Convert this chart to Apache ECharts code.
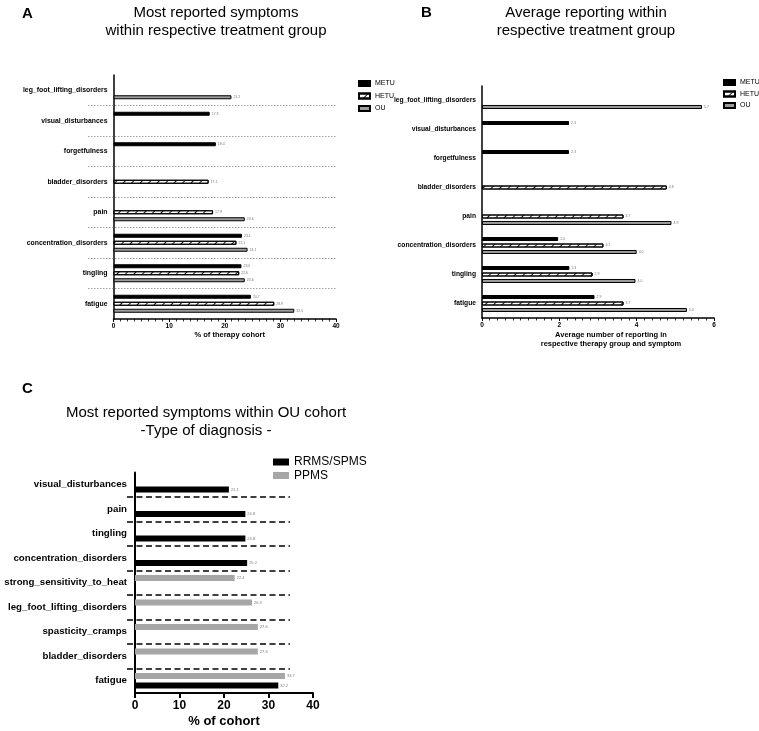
<!DOCTYPE html>
<html>
<head>
<meta charset="utf-8">
<title>Symptoms</title>
<script src="https://cdn.jsdelivr.net/npm/echarts@6/dist/echarts.min.js"></script>
<style>
  html,body{margin:0;padding:0;background:#fff}
  #chart{width:759px;height:731px}
</style>
</head>
<body>
<div id="chart"></div>
<script>
// panel A - % of therapy cohort (top to bottom)
var catA = ['leg_foot_lifting_disorders', 'visual_disturbances', 'forgetfulness', 'bladder_disorders',
            'pain', 'concentration_disorders', 'tingling', 'fatigue'];
var metuA = [null, 17.3, 18.4, null, null, 23.1, 23.0, 24.7];
var hetuA = [null, null, null, 17.1, 17.9, 22.1, 22.6, 28.9];
var ouA   = [21.2, null, null, null, 23.6, 24.1, 23.6, 32.5];

// panel B - average number of reporting
var catB = catA;
var metuB = [null, 2.25, 2.25, null, null, 1.97, 2.26, 2.91];
var hetuB = [null, null, null, 4.78, 3.66, 3.14, 2.86, 3.66];
var ouB   = [5.69, null, null, null, 4.90, 4.00, 3.97, 5.30];

// panel C - OU cohort by diagnosis
var catC = ['visual_disturbances', 'pain', 'tingling', 'concentration_disorders', 'strong_sensitivity_to_heat',
            'leg_foot_lifting_disorders', 'spasticity_cramps', 'bladder_disorders', 'fatigue'];
var rrmsC = [21.1, 24.8, 24.8, 25.2, null, null, null, null, 32.2];
var ppmsC = [null, null, null, null, 22.4, 26.3, 27.6, 27.6, 33.7];

// group separators (boundaries between categories)
var sepA = [1, 2, 3, 4, 5, 6, 7];
var sepC = [1, 2, 3, 4, 5, 6, 7, 8];

var FF = "'Liberation Sans', Arial, sans-serif";

var chart = echarts.init(document.getElementById('chart'));

var metuStyle = {color: '#000', borderColor: '#000', borderWidth: 1};
var hetuStyle = {
  color: '#fff', borderColor: '#000', borderWidth: 1,
  decal: {symbol: 'rect', symbolSize: 1, dashArrayX: [1, 0], dashArrayY: [0.9, 4.2],
          rotation: -Math.PI / 4, color: '#111'}
};
var ouStyle = {color: '#9c9c9c', borderColor: '#000', borderWidth: 1};

function tinyLabel(size) {
  return {
    show: true, position: 'right', distance: 2, fontSize: size, color: '#777', fontFamily: FF,
    formatter: function (p) { return p.value == null ? '' : p.value.toFixed(1); }
  };
}

function barSeries(name, data, xi, style, w, gap, lsize) {
  return {
    name: name, type: 'bar', xAxisIndex: xi, yAxisIndex: xi, data: data,
    barWidth: w, barGap: gap, itemStyle: style, label: tinyLabel(lsize),
    emphasis: {disabled: true}, animation: false
  };
}

function sepSeries(idx, list, style) {
  return {
    type: 'line', xAxisIndex: idx, yAxisIndex: idx, data: [], silent: true, animation: false,
    markLine: {
      symbol: 'none', silent: true, animation: false, label: {show: false},
      lineStyle: style, emphasis: {disabled: true},
      data: list.map(function (k) { return [{coord: [0, k]}, {coord: [1, k]}]; })
    }
  };
}

function catAxis(gi, cats, fs, margin, tlen, lw) {
  return {
    gridIndex: gi, type: 'category', data: cats, inverse: true,
    axisLine: {lineStyle: {color: '#000', width: lw}},
    axisTick: {alignWithLabel: true, length: tlen, lineStyle: {color: '#000', width: lw}},
    axisLabel: {interval: 0, fontSize: fs, fontWeight: 'bold', color: '#000', margin: margin, fontFamily: FF},
    splitLine: {show: false}
  };
}

function hiddenAxis(gi, max) {
  return {gridIndex: gi, type: 'value', min: 0, max: max, show: false, inverse: true};
}

function grid(l, t, w, h) {
  return {left: l, top: t, width: w, height: h, containLabel: false, outerBoundsMode: 'none'};
}

var option = {
  animation: false,
  textStyle: {fontFamily: FF},
  grid: [
    grid(113.5, 75, 222.5, 244),
    grid(482, 86, 232, 232),
    grid(135, 472.5, 178, 220.5),
    grid(88, 75, 249, 244),
    grid(127, 472.5, 163, 220.5)
  ],
  xAxis: [
    {
      gridIndex: 0, type: 'value', min: 0, max: 40, interval: 10,
      axisLine: {show: true, lineStyle: {color: '#000', width: 1.5}},
      axisTick: {show: true, length: 3, lineStyle: {color: '#000', width: 1}},
      minorTick: {show: true, splitNumber: 8, length: 2.5, lineStyle: {color: '#000', width: 0.8}},
      splitLine: {show: false},
      axisLabel: {fontSize: 6.5, fontWeight: 'bold', color: '#000', margin: 4, fontFamily: FF},
      name: '% of therapy cohort', nameLocation: 'middle', nameGap: 12,
      nameTextStyle: {fontSize: 7.5, fontWeight: 'bold', color: '#000', fontFamily: FF, padding: [0, 0, 0, 10]}
    },
    {
      gridIndex: 1, type: 'value', min: 0, max: 6, interval: 2,
      axisLine: {show: true, lineStyle: {color: '#000', width: 1.5}},
      axisTick: {show: true, length: 3, lineStyle: {color: '#000', width: 1}},
      minorTick: {show: true, splitNumber: 10, length: 2.5, lineStyle: {color: '#000', width: 0.8}},
      splitLine: {show: false},
      axisLabel: {fontSize: 6.5, fontWeight: 'bold', color: '#000', margin: 4, fontFamily: FF},
      name: 'Average number of reporting in\nrespective therapy group and symptom',
      nameLocation: 'middle', nameGap: 12,
      nameTextStyle: {fontSize: 7.5, fontWeight: 'bold', color: '#000', fontFamily: FF, lineHeight: 9,
                      padding: [0, 0, 0, 26]}
    },
    {
      gridIndex: 2, type: 'value', min: 0, max: 40, interval: 10,
      axisLine: {show: true, lineStyle: {color: '#000', width: 2}},
      axisTick: {show: true, length: 5, lineStyle: {color: '#000', width: 2}},
      splitLine: {show: false},
      axisLabel: {fontSize: 12, fontWeight: 'bold', color: '#000', margin: 7, fontFamily: FF},
      name: '% of cohort', nameLocation: 'middle', nameGap: 22,
      nameTextStyle: {fontSize: 13, fontWeight: 'bold', color: '#000', fontFamily: FF}
    },
    {gridIndex: 3, type: 'value', min: 0, max: 1, show: false},
    {gridIndex: 4, type: 'value', min: 0, max: 1, show: false}
  ],
  yAxis: [
    catAxis(0, catA, 6.9, 6, 4, 1.5),
    catAxis(1, catB, 6.7, 6, 4, 1.5),
    catAxis(2, catC, 9.7, 8, 6, 2),
    hiddenAxis(3, catA.length),
    hiddenAxis(4, catC.length)
  ],
  legend: [
    {data: ['METU', 'HETU', 'OU'], left: 353, top: 75, orient: 'vertical', icon: 'rect',
     itemWidth: 11, itemHeight: 5, itemGap: 5.5, selectedMode: false,
     textStyle: {fontSize: 7, color: '#000', fontFamily: FF}},
    {data: ['METU', 'HETU', 'OU'], left: 718, top: 74, orient: 'vertical', icon: 'rect',
     itemWidth: 11, itemHeight: 5, itemGap: 4.5, selectedMode: false,
     textStyle: {fontSize: 7, color: '#000', fontFamily: FF}},
    {data: ['RRMS/SPMS', 'PPMS'], left: 268, top: 451, orient: 'vertical', icon: 'rect',
     itemWidth: 16, itemHeight: 7, itemGap: 1.5, selectedMode: false,
     textStyle: {fontSize: 12, color: '#000', fontFamily: FF}}
  ],
  graphic: [
    {type: 'text', x: 22, y: 14, style: {text: 'A', font: 'bold 15px ' + FF, fill: '#000', textVerticalAlign: 'middle'}},
    {type: 'text', x: 421, y: 13, style: {text: 'B', font: 'bold 15px ' + FF, fill: '#000', textVerticalAlign: 'middle'}},
    {type: 'text', x: 22, y: 389, style: {text: 'C', font: 'bold 15px ' + FF, fill: '#000', textVerticalAlign: 'middle'}},
    {type: 'text', x: 216, y: 22, style: {text: 'Most reported symptoms\nwithin respective treatment group',
      font: '15px ' + FF, fill: '#000', textAlign: 'center', textVerticalAlign: 'middle', lineHeight: 18.5}},
    {type: 'text', x: 586, y: 22, style: {text: 'Average reporting within\nrespective treatment group',
      font: '15px ' + FF, fill: '#000', textAlign: 'center', textVerticalAlign: 'middle', lineHeight: 18.5}},
    {type: 'text', x: 206, y: 422, style: {text: 'Most reported symptoms within OU cohort\n-Type of diagnosis -',
      font: '15px ' + FF, fill: '#000', textAlign: 'center', textVerticalAlign: 'middle', lineHeight: 18}}
  ],
  series: [
    barSeries('METU', metuA, 0, metuStyle, 4, '75%', 3.5),
    barSeries('HETU', hetuA, 0, hetuStyle, 4, '75%', 3.5),
    barSeries('OU', ouA, 0, ouStyle, 4, '75%', 3.5),
    barSeries('METU', metuB, 1, metuStyle, 4, '62%', 3.5),
    barSeries('HETU', hetuB, 1, hetuStyle, 4, '62%', 3.5),
    barSeries('OU', ouB, 1, ouStyle, 4, '62%', 3.5),
    barSeries('PPMS', ppmsC, 2, {color: '#a6a6a6'}, 6, '55%', 4),
    barSeries('RRMS/SPMS', rrmsC, 2, {color: '#000'}, 6, '55%', 4),
    sepSeries(3, sepA, {color: '#888', width: 0.8, type: [1.5, 1.5]}),
    sepSeries(4, sepC, {color: '#000', width: 1.5, type: [6, 3.5]})
  ]
};

chart.setOption(option);
</script>
</body>
</html>
